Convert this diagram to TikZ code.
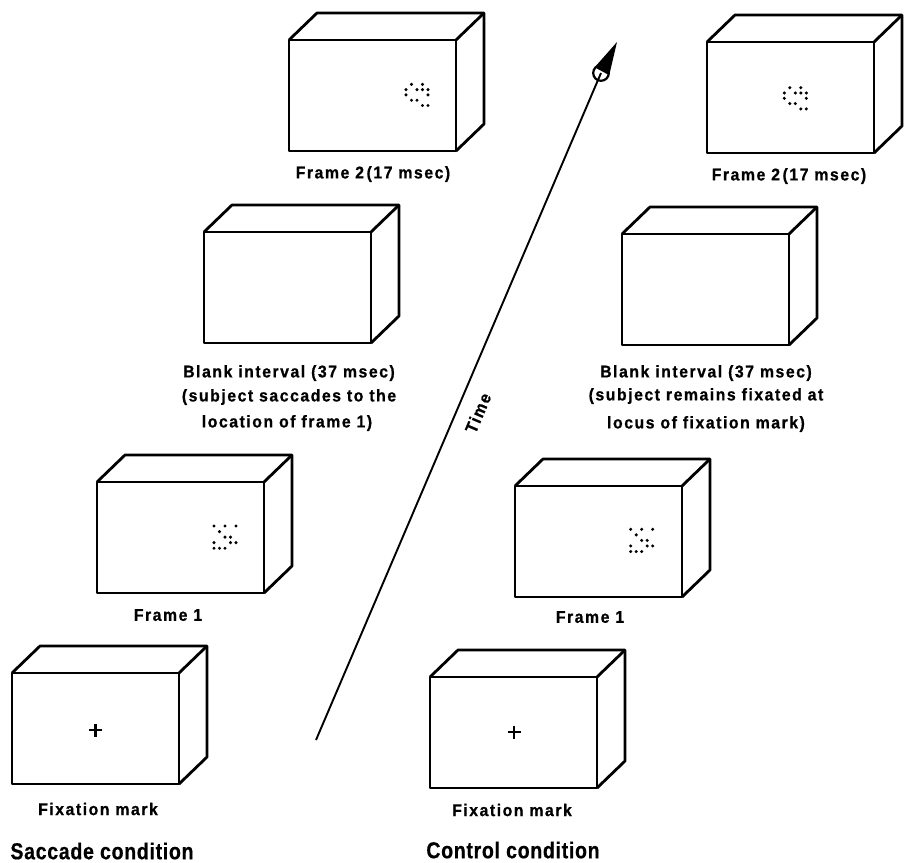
\documentclass[tikz,border=0pt]{standalone}
\usepackage{fontspec}
\newfontfamily\labfont[FakeStretch=0.93,LetterSpace=9,FakeBold=0.8]{Liberation Sans}
\newfontfamily\condfont[FakeStretch=0.85,LetterSpace=3,FakeBold=0.5]{Liberation Sans}
\tikzset{
  boxline/.style={line width=2.8pt,line join=round},
  lab/.style={font=\labfont\bfseries\fontsize{17}{17}\selectfont, inner sep=0pt, anchor=center},
  cond/.style={font=\condfont\bfseries\fontsize{23}{23}\selectfont, inner sep=0pt, anchor=center},
  crt/.pic={
    \draw[boxline] (0,0) rectangle (167,111);
    \draw[boxline] (0,0) -- (28,-27) -- (195,-27) -- (195,84) -- (167,111);
    \draw[boxline] (167,0) -- (195,-27);
  },
  dotsA/.pic={% frame 1 pattern
    \foreach \c/\r in {0/0,2/0,4/0,1/1,2/2,3/2,0/3,3/3,4/3,0/4,1/4,2/4}
      \fill (\c*5.5,\r*5.55) circle (1.7);
  },
  dotsB/.pic={% frame 2 pattern
    \foreach \c/\r in {1/0,3/0,0/1,2/1,3/1,4/1,0/2,4/2,1/3,2/3,3/4,4/4}
      \fill (\c*5.5,\r*5.3) circle (1.7);
  },
  plusmark/.pic={
    \draw[line width=2.6pt] (0,-6.5) -- (0,6.5) (-6.5,0) -- (6.5,0);
  }
}
\begin{document}
\begin{tikzpicture}[x=1pt,y=-1pt]
\useasboundingbox (0,0) rectangle (906,863);
% saccade condition boxes
\pic at (289,40) {crt};
\pic at (204,232) {crt};
\pic at (97,482) {crt};
\pic at (12,673) {crt};
% control condition boxes
\pic at (707,42) {crt};
\pic at (622,234) {crt};
\pic at (515,486) {crt};
\pic at (430,677) {crt};
% dot patterns
\pic at (406,84.3) {dotsB};
\pic at (784.3,87.7) {dotsB};
\pic at (214,526) {dotsA};
\pic at (630.7,529.3) {dotsA};
% fixation marks
\pic at (95.7,730) {plusmark};
\pic at (514,732) {plusmark};
% labels
\node[lab] (f2s) at (373,174) {Frame 2\hspace{0.15em}(17 msec)};
\node[lab] (f2c) at (789,176) {Frame 2\hspace{0.15em}(17 msec)};
\node[lab] (bls1) at (289,373) {Blank interval (37 msec)};
\node[lab] (bls2) at (289,397) {(subject saccades to the};
\node[lab] (bls3) at (287,423) {location of frame 1)};
\node[lab] (blc1) at (706,373) {Blank interval (37 msec)};
\node[lab] (blc2) at (706,396) {(subject remains fixated at};
\node[lab] (blc3) at (706,424) {locus of fixation mark)};
\node[lab] (f1s) at (168,615) {Frame 1};
\node[lab] (f1c) at (590,617) {Frame 1};
\node[lab] (fxs) at (98,809) {Fixation mark};
\node[lab] (fxc) at (512,810) {Fixation mark};
\node[cond] (sc) at (102,851) {Saccade condition};
\node[cond] (cc) at (513,850) {Control condition};
% time arrow
\coordinate (tstart) at (316,740);
\coordinate (tc) at (601,73);
\coordinate (ttip) at (617,42);
\draw[line width=1.9pt] (tstart) -- (tc);
\fill (ttip) -- ([shift={(14.5:8.5)}]tc) -- ([shift={(-138.3:8.5)}]tc) -- cycle;
\draw[line width=2.2pt] (tc) circle (7.8);
\node[lab, rotate=67] (time) at (478,413) {Time};
\end{tikzpicture}
\end{document}
